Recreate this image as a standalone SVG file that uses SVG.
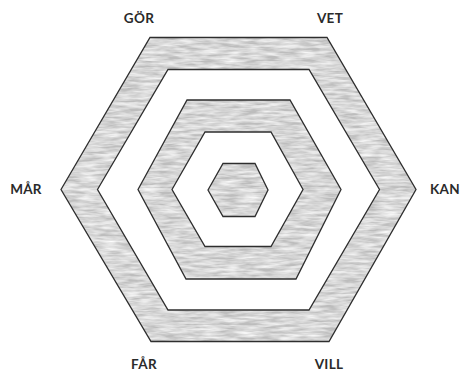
<svg xmlns="http://www.w3.org/2000/svg" width="461" height="371" viewBox="0 0 461 371">
  <defs>
    <filter id="pencil" x="0" y="0" width="1" height="1" filterUnits="objectBoundingBox">
      <feTurbulence type="fractalNoise" baseFrequency="0.05 0.35" numOctaves="3" seed="11" result="noise"/>
      <feColorMatrix in="noise" type="matrix" values="0 0 0 0 0  0 0 0 0 0  0 0 0 0 0  0 0 0 -1.4 1.05" result="speck"/>
      <feComposite in="speck" in2="SourceGraphic" operator="in" result="tex"/>
      <feFlood flood-color="#ffffff"/>
      <feComposite in2="tex" operator="in" result="white"/>
      <feMerge>
        <feMergeNode in="SourceGraphic"/>
        <feMergeNode in="white"/>
      </feMerge>
    </filter>
  </defs>
  <style>
    .ring { fill: #bdbdbd; fill-rule: evenodd; }
    .edge { fill: none; stroke: #2e2e2e; stroke-width: 1.3; stroke-linejoin: miter; }
    .lbl { font-family: "Lato", "Open Sans", "Liberation Sans", sans-serif; font-size: 13.5px; font-weight: 700; fill: #2a2a2a; text-anchor: middle; letter-spacing: 0.3px; }
  </style>
  <rect width="461" height="371" fill="#ffffff"/>

  <g id="outer-ring">
    <path class="ring" filter="url(#pencil)" d="M61,189.5 L150,37.5 L327,37.5 L416,189.5 L329,341.5 L151,341.5 Z M97.5,189.5 L168,310 L309,310 L379.5,189.5 L309,69.5 L168,69.5 Z"/>
    <path class="edge" d="M61,189.5 L150,37.5 L327,37.5 L416,189.5 L329,341.5 L151,341.5 Z"/>
    <path class="edge" d="M97.5,189.5 L168,69.5 L309,69.5 L379.5,189.5 L309,310 L168,310 Z"/>
  </g>

  <g id="middle-ring">
    <path class="ring" filter="url(#pencil)" d="M138,189.5 L187,100 L290,100 L341,189.5 L296,279 L186,279 Z M172,189.5 L205,246.5 L271,246.5 L303,189.5 L271,132 L205,132 Z"/>
    <path class="edge" d="M138,189.5 L187,100 L290,100 L341,189.5 L296,279 L186,279 Z"/>
    <path class="edge" d="M172,189.5 L205,132 L271,132 L303,189.5 L271,246.5 L205,246.5 Z"/>
  </g>

  <g id="core">
    <path class="ring" filter="url(#pencil)" d="M208,190 L223,163.5 L255,163.5 L268,190 L255,216.5 L223,216.5 Z"/>
    <path class="edge" d="M208,190 L223,163.5 L255,163.5 L268,190 L255,216.5 L223,216.5 Z"/>
  </g>

  <g id="label-gor"><text class="lbl" x="139" y="23">GÖR</text></g>
  <g id="label-vet"><text class="lbl" x="330" y="23">VET</text></g>
  <g id="label-mar"><text class="lbl" x="26" y="194">MÅR</text></g>
  <g id="label-kan"><text class="lbl" x="445" y="194">KAN</text></g>
  <g id="label-far"><text class="lbl" x="144" y="369">FÅR</text></g>
  <g id="label-vill"><text class="lbl" x="329" y="369">VILL</text></g>
</svg>
